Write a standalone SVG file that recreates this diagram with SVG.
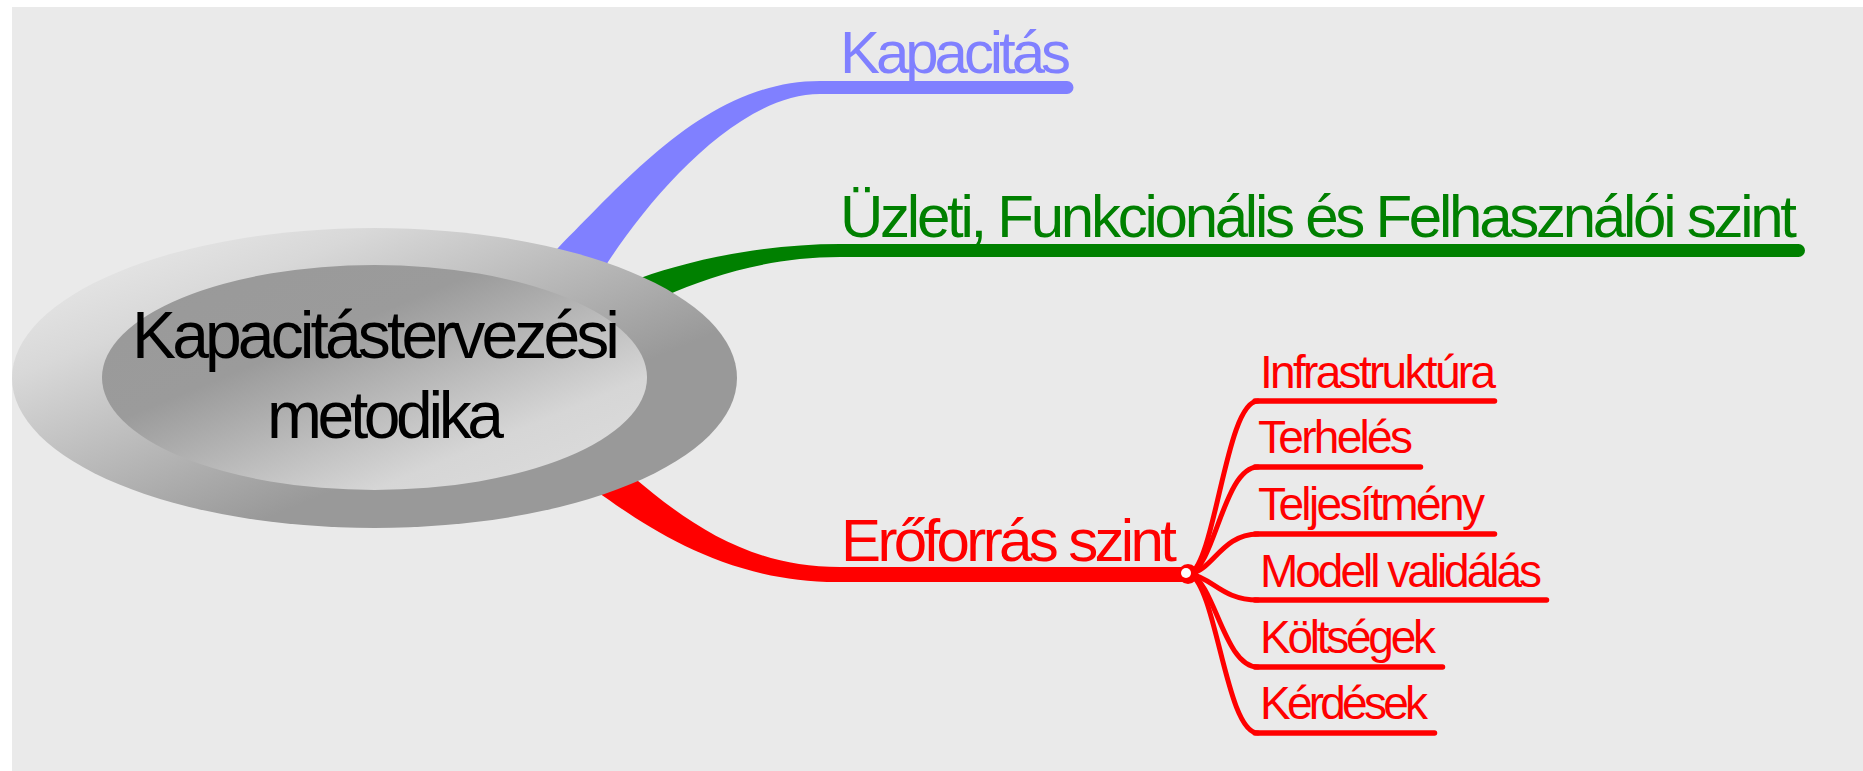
<svg xmlns="http://www.w3.org/2000/svg" width="1863" height="771" viewBox="0 0 1863 771">
  <defs>
    <linearGradient id="ringGrad" x1="0" y1="0" x2="1" y2="1">
      <stop offset="0" stop-color="#f0f0f0"/>
      <stop offset="0.25" stop-color="#d8d8d8"/>
      <stop offset="0.5" stop-color="#b2b2b2"/>
      <stop offset="0.66" stop-color="#999999"/>
      <stop offset="1" stop-color="#999999"/>
    </linearGradient>
    <linearGradient id="coreGrad" x1="0" y1="0" x2="1" y2="1">
      <stop offset="0" stop-color="#999999"/>
      <stop offset="0.36" stop-color="#9b9b9b"/>
      <stop offset="0.75" stop-color="#d6d6d6"/>
      <stop offset="1" stop-color="#dedede"/>
    </linearGradient>
    <style>
      text { font-family: "Liberation Sans", Arial, sans-serif; }
      .main { font-size: 60px; }
      .sub { font-size: 46px; fill: #ff0000; }
      .center { font-size: 66px; fill: #000000; }
      .twig { fill: none; stroke: #ff0000; stroke-width: 5; stroke-linecap: round; }
      .uline { fill: none; stroke: #ff0000; stroke-width: 5.5; stroke-linecap: round; }
    </style>
  </defs>

  <!-- canvas -->
  <rect x="12" y="7" width="1851" height="764" fill="#eaeaea"/>

  <!-- connectors: tapered main branches and the twigs of the red sub-tree -->
  <g id="connectors">
    <path id="branch-kapacitas" fill="#8080ff"
          d="M525,285 L558,248 C630,176 710,81 820,81 L1067,81 A6.5,6.5 0 0 1 1067,94 L820,94 C740,94 654,192 608,262 L585,300 Z"/>
    <path id="branch-uzleti" fill="#008000"
          d="M610,295 L630,282 C680,262 760,244 840,244 L1798.5,244 A6.5,6.5 0 0 1 1798.5,257 L840,257 C770,257 710,276 665,296 L640,310 Z"/>
    <path id="branch-eroforras" fill="#ff0000"
          d="M610,460 L632,476 C690,525 750,567 840,567 L1190,567 L1190,582 L840,582 C730,583 650,530 595,490 L585,470 Z"/>
    <circle cx="1188" cy="574" r="10" fill="#ff0000"/>
    <path class="twig" d="M1190,574 C1216,560 1226,401 1258,401"/>
    <path class="twig" d="M1190,574 C1215,565 1224,467 1258,467"/>
    <path class="twig" d="M1190,574 C1213,570 1222,534 1258,534"/>
    <path class="twig" d="M1190,574 C1213,578 1222,600 1258,600"/>
    <path class="twig" d="M1190,574 C1215,583 1224,667 1258,667"/>
    <path class="twig" d="M1190,574 C1217,588 1226,733 1258,733"/>
    <circle cx="1186" cy="573" r="5" fill="#ffffff"/>
  </g>

  <!-- central topic -->
  <g id="node-center">
    <ellipse cx="374.5" cy="378" rx="362.5" ry="150" fill="url(#ringGrad)"/>
    <ellipse cx="374.5" cy="377.5" rx="272.5" ry="112.5" fill="url(#coreGrad)"/>
    <text class="center" x="132" y="358" textLength="488" lengthAdjust="spacing">Kapacitástervezési</text>
    <text class="center" x="267" y="438" textLength="237" lengthAdjust="spacing">metodika</text>
  </g>

  <!-- main topics -->
  <g id="node-kapacitas">
    <text class="main" x="840" y="73" fill="#8080ff" textLength="231" lengthAdjust="spacing">Kapacitás</text>
  </g>
  <g id="node-uzleti">
    <text class="main" x="840" y="237" fill="#008000" textLength="957" lengthAdjust="spacing">Üzleti, Funkcionális és Felhasználói szint</text>
  </g>
  <g id="node-eroforras">
    <text class="main" x="841" y="561" fill="#ff0000" textLength="336" lengthAdjust="spacing">Erőforrás szint</text>
  </g>

  <!-- sub topics of the resource level -->
  <g id="node-infrastruktura">
    <text class="sub" x="1260" y="388" textLength="236" lengthAdjust="spacing">Infrastruktúra</text>
    <path class="uline" d="M1255,401 H1494.5"/>
  </g>
  <g id="node-terheles">
    <text class="sub" x="1258" y="453" textLength="155" lengthAdjust="spacing">Terhelés</text>
    <path class="uline" d="M1255,467 H1420.5"/>
  </g>
  <g id="node-teljesitmeny">
    <text class="sub" x="1258" y="520" textLength="227" lengthAdjust="spacing">Teljesítmény</text>
    <path class="uline" d="M1255,534 H1494.5"/>
  </g>
  <g id="node-modell">
    <text class="sub" x="1260" y="587" textLength="282" lengthAdjust="spacing">Modell validálás</text>
    <path class="uline" d="M1255,600 H1546.5"/>
  </g>
  <g id="node-koltsegek">
    <text class="sub" x="1260" y="653" textLength="176" lengthAdjust="spacing">Költségek</text>
    <path class="uline" d="M1255,667 H1442.5"/>
  </g>
  <g id="node-kerdesek">
    <text class="sub" x="1260" y="719" textLength="168" lengthAdjust="spacing">Kérdések</text>
    <path class="uline" d="M1255,733 H1434.5"/>
  </g>
</svg>
